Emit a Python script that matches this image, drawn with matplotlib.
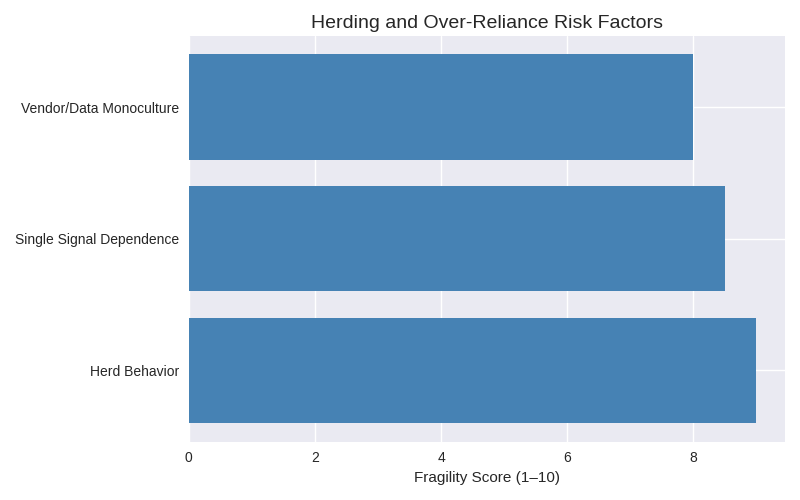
import matplotlib
matplotlib.use("Agg")
import matplotlib.pyplot as plt

# Faktor risiko dan skor kerapuhan
faktor = ["Herd Behavior", "Single Signal Dependence", "Vendor/Data Monoculture"]
skor = [9.0, 8.5, 8.0]

plt.style.use("seaborn-v0_8")
plt.rcParams["font.family"] = ["Liberation Sans", "DejaVu Sans"]

fig, ax = plt.subplots(figsize=(8, 5), dpi=100)
ax.barh(faktor, skor, color="steelblue")

ax.set_title("Herding and Over-Reliance Risk Factors", fontsize=14, color="0.15")
ax.set_xlabel("Fragility Score (1–10)", fontsize=11, color="0.15", labelpad=4)
ax.tick_params(labelsize=10)

fig.subplots_adjust(left=0.236, right=0.981, top=0.928, bottom=0.117)
fig.savefig("out.png", dpi=100)
